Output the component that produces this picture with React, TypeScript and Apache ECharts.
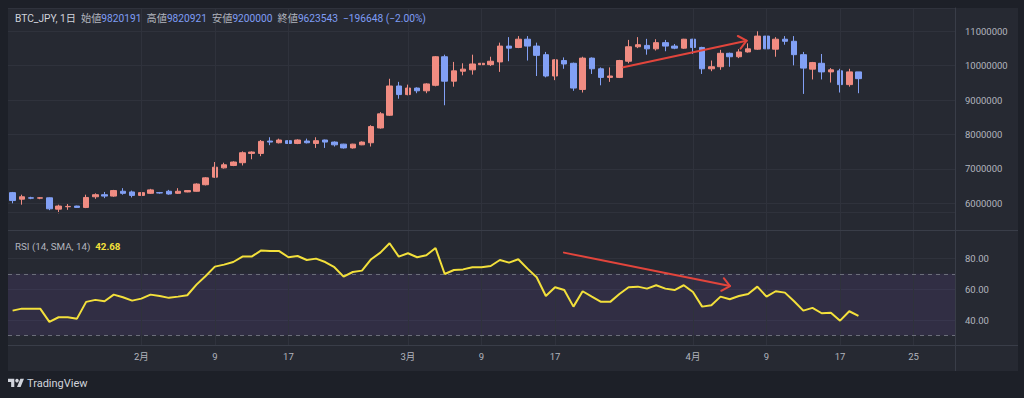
import React, { useEffect, useRef } from "react";
import * as echarts from "echarts";

// ---------- data ----------
const START_DATE = Date.UTC(2024, 0, 18);
const SLOT_COUNT = 103; // daily slots shown on the time axis (data + empty right margin)
const dates: string[] = Array.from({ length: SLOT_COUNT }, (_, i) =>
  new Date(START_DATE + i * 86400000).toISOString().slice(0, 10)
);

const opens = [
  6310000, 6120000, 6160000, 6150000, 6160000, 5830000, 5900000, 5920000, 5880000, 6190000,
  6250000, 6210000, 6350000, 6330000, 6230000, 6290000, 6310000, 6350000, 6290000, 6330000,
  6350000, 6540000, 6760000, 7030000, 7100000, 7180000, 7450000, 7450000, 7810000, 7760000,
  7820000, 7740000, 7810000, 7740000, 7840000, 7780000, 7720000, 7610000, 7700000, 7760000,
  8190000, 8560000, 9410000, 9160000, 9350000, 9270000, 9430000, 10260000, 9550000, 9840000,
  9880000, 10030000, 10030000, 10110000, 10570000, 10530000, 10770000, 10570000, 10320000, 9700000,
  10150000, 10070000, 9310000, 10220000, 9910000, 9660000, 9660000, 10130000, 10550000, 10590000,
  10490000, 10670000, 10570000, 10510000, 10770000, 10530000, 9910000, 9970000, 10360000, 10260000,
  10400000, 10480000, 10860000, 10480000, 10770000, 10710000, 10320000, 9900000, 10070000, 9820000,
  9850000, 9450000, 9820191,
];
const highs = [
  6330000, 6250000, 6190000, 6180000, 6170000, 5960000, 5980000, 5930000, 6250000, 6290000,
  6330000, 6390000, 6440000, 6370000, 6320000, 6420000, 6330000, 6390000, 6440000, 6380000,
  6580000, 6760000, 7200000, 7180000, 7220000, 7510000, 7510000, 7840000, 7920000, 7880000,
  7830000, 7860000, 7880000, 7920000, 7850000, 7800000, 7730000, 7730000, 7800000, 8270000,
  8650000, 9620000, 9530000, 9450000, 9370000, 9490000, 10280000, 10320000, 10110000, 10070000,
  10320000, 10110000, 10260000, 10670000, 10830000, 10860000, 10860000, 10670000, 10400000, 10190000,
  10240000, 10090000, 10260000, 10240000, 9950000, 9950000, 10170000, 10750000, 10830000, 10780000,
  10770000, 10750000, 10630000, 10780000, 10780000, 10550000, 10150000, 10460000, 10380000, 10480000,
  10650000, 11000000, 10880000, 10830000, 10860000, 10860000, 10400000, 10110000, 10340000, 9930000,
  9910000, 9910000, 9820921,
];
const lows = [
  6000000, 5960000, 6120000, 6120000, 5800000, 5710000, 5810000, 5870000, 5860000, 6130000,
  6150000, 6190000, 6250000, 6170000, 6130000, 6270000, 6280000, 6250000, 6270000, 6320000,
  6340000, 6520000, 6740000, 7010000, 7080000, 7100000, 7280000, 7370000, 7690000, 7740000,
  7590000, 7720000, 7740000, 7610000, 7610000, 7650000, 7590000, 7590000, 7690000, 7650000,
  8170000, 8540000, 9040000, 9140000, 9200000, 9200000, 9400000, 8850000, 9390000, 9720000,
  9740000, 9990000, 9990000, 9820000, 10130000, 10510000, 10150000, 9700000, 9660000, 9580000,
  9910000, 9270000, 9220000, 9760000, 9430000, 9530000, 9640000, 10070000, 10510000, 10320000,
  10440000, 10420000, 10480000, 10490000, 10340000, 9760000, 9840000, 9880000, 9970000, 10220000,
  10380000, 10460000, 10340000, 10260000, 10610000, 10010000, 9180000, 9600000, 9600000, 9510000,
  9220000, 9390000, 9200000,
];
const closes = [
  6080000, 6190000, 6150000, 6160000, 5840000, 5920000, 5910000, 5880000, 6170000, 6250000,
  6210000, 6370000, 6290000, 6230000, 6310000, 6390000, 6300000, 6270000, 6350000, 6370000,
  6560000, 6740000, 7050000, 7120000, 7200000, 7470000, 7490000, 7800000, 7780000, 7840000,
  7740000, 7840000, 7760000, 7820000, 7780000, 7700000, 7610000, 7720000, 7780000, 8230000,
  8600000, 9410000, 9160000, 9350000, 9270000, 9470000, 10260000, 9550000, 9850000, 9900000,
  10050000, 10070000, 10130000, 10570000, 10510000, 10770000, 10570000, 10300000, 9700000, 10170000,
  10050000, 9350000, 10220000, 9910000, 9660000, 9700000, 10150000, 10550000, 10610000, 10490000,
  10670000, 10570000, 10510000, 10770000, 10530000, 9910000, 9970000, 10360000, 10260000, 10400000,
  10490000, 10860000, 10490000, 10770000, 10710000, 10320000, 9930000, 10090000, 9820000, 9880000,
  9450000, 9820191, 9623543,
];
const rsiValues = [
  46.1, 47.4, 47.4, 47.4, 38.8, 41.8, 41.8, 40.9, 51.8, 53.1,
  52.2, 56.5, 54.8, 52.6, 53.9, 56.5, 55.6, 54.4, 55.2, 56.1,
  63.0, 68.6, 74.7, 76.0, 77.7, 81.2, 81.2, 85.1, 84.8, 84.8,
  80.8, 81.6, 79.0, 79.9, 77.7, 74.3, 68.2, 71.2, 72.1, 79.5,
  83.8, 89.9, 81.2, 83.4, 80.8, 82.1, 86.8, 69.9, 72.5, 72.9,
  74.3, 74.3, 75.1, 79.0, 77.3, 79.5, 73.4, 67.8, 55.6, 61.3,
  59.5, 48.7, 58.7, 55.2, 51.8, 51.8, 56.9, 61.3, 61.7, 60.4,
  62.6, 60.4, 59.5, 62.6, 58.2, 48.7, 49.6, 55.2, 53.5, 55.6,
  56.9, 61.7, 55.2, 58.7, 57.8, 52.2, 46.1, 47.9, 44.4, 44.8,
  39.6, 45.7, 42.68,
];
const labelDates = [
  "2024-02-01", "2024-02-09", "2024-02-17", "2024-03-01", "2024-03-09",
  "2024-03-17", "2024-04-01", "2024-04-09", "2024-04-17", "2024-04-25",
];
const rsiBand = [30, 70];
const rsiLabelTicks = [40, 60, 80];
// annotations: [slot index, value]
const priceArrow = { from: [66.42, 9953000], to: [79.84, 10727000] };
const rsiArrow = { from: [59.97, 83.8], to: [78.03, 62.1] };

// ---------- style ----------
const OUTER = "#1d2028";
const PANEL = "#262932";
const GRID = "#2f323c";
const BORDER = "#393d48";
const TEXT = "#b2b5be";
const TEXT_LIGHT = "#d1d4dc";
const UP = "#f08c82";
const DOWN = "#82a0f5";
const VAL_BLUE = "#7f9df5";
const YELLOW = "#f3e03b";
const ARROW = "#e2453c";
const FONT = 'Roboto, "Noto Sans CJK JP", sans-serif';

echarts.graphic.registerShape(
  "tvlogo",
  echarts.graphic.extendPath("M14 22H7V11H0V4h14v18zM28 22h-8l7.5-18h8L28 22z", {})
);

export default function App() {
  const ref = useRef<HTMLDivElement>(null);
  useEffect(() => {
    const el = ref.current!;
    const chart = echarts.init(el, null, { renderer: "svg" });
    const candleData = dates.map((_, i) =>
      i < opens.length ? [opens[i], closes[i], lows[i], highs[i]] : "-"
    );
    const rsiData = dates.map((_, i) => (i < rsiValues.length ? rsiValues[i] : "-"));
    const labelSet = new Set(labelDates);
    const vLines = labelDates.map((d) => ({ xAxis: d }));
    const fmtDate = (v: string) => {
      const p = v.split("-").map(Number);
      return p[2] === 1 ? `${p[1]}月` : String(p[2]);
    };

    chart.setOption({
      animation: false,
      backgroundColor: "transparent",
      textStyle: { fontFamily: FONT },
      grid: [
        { left: 8, right: 69, top: 8, height: 222 },
        { left: 8, right: 69, top: 230, height: 115 },
      ],
      xAxis: [
        {
          type: "category", gridIndex: 0, data: dates, boundaryGap: true,
          axisLine: { show: false }, axisTick: { show: false }, axisLabel: { show: false },
          splitLine: { show: false },
        },
        {
          type: "category", gridIndex: 1, data: dates, boundaryGap: true,
          axisLine: { show: false }, axisTick: { show: false },
          axisLabel: {
            color: TEXT, fontSize: 9.5, margin: 7, fontFamily: FONT,
            interval: (_i: number, v: string) => labelSet.has(v),
            formatter: fmtDate,
          },
          splitLine: { show: false },
        },
      ],
      yAxis: [
        {
          type: "value", gridIndex: 0, position: "right", min: 5224000, max: 11677000,
          splitNumber: 5,
          axisLine: { show: true, lineStyle: { color: BORDER } }, axisTick: { show: false },
          axisLabel: {
            color: TEXT, fontSize: 9.5, margin: 10, fontFamily: FONT,
            showMinLabel: false, showMaxLabel: false,
            formatter: (v: number) =>
              Math.abs(v / 1e6 - Math.round(v / 1e6)) < 1e-6 ? String(Math.round(v)) : "",
          },
          splitLine: { lineStyle: { color: GRID } },
        },
        {
          type: "value", gridIndex: 1, position: "right", min: 23.77, max: 98.5,
          splitNumber: 4,
          axisLine: { show: true, lineStyle: { color: BORDER } }, axisTick: { show: false },
          axisLabel: {
            color: TEXT, fontSize: 9.5, margin: 10, fontFamily: FONT,
            showMinLabel: false, showMaxLabel: false,
            formatter: (v: number) => (rsiLabelTicks.includes(Math.round(v * 100) / 100) ? v.toFixed(2) : ""),
          },
          splitLine: { lineStyle: { color: GRID } },
        },
      ],
      series: [
        {
          type: "candlestick", xAxisIndex: 0, yAxisIndex: 0, data: candleData,
          barWidth: 6,
          itemStyle: { color: UP, color0: DOWN, borderColor: UP, borderColor0: DOWN, borderWidth: 1 },
          markLine: {
            silent: true, symbol: ["none", "none"], label: { show: false },
            lineStyle: { color: GRID, type: "solid", width: 1 },
            data: [...vLines, { yAxis: 5727000 }],
          },
        },
        {
          type: "line", xAxisIndex: 1, yAxisIndex: 1, data: rsiData, showSymbol: false,
          symbol: "none", lineStyle: { color: YELLOW, width: 2 }, z: 5,
          markArea: {
            silent: true, itemStyle: { color: "rgba(126, 87, 194, 0.13)" },
            data: [[{ yAxis: rsiBand[1] }, { yAxis: rsiBand[0] }]],
          },
          markLine: {
            silent: true, symbol: ["none", "none"], label: { show: false },
            data: [
              ...vLines.map((v) => ({ ...v, lineStyle: { color: GRID, type: "solid", width: 1 } })),
              { yAxis: rsiBand[1], lineStyle: { color: "#6b6e7a", type: [4, 4], width: 1 } },
              { yAxis: rsiBand[0], lineStyle: { color: "#6b6e7a", type: [4, 4], width: 1 } },
            ],
          },
        },
      ],
    });

    const px = (gridIndex: number, idx: number, val: number) => {
      const i0 = Math.floor(idx);
      const p0 = chart.convertToPixel({ gridIndex } as any, [i0, val]) as number[];
      const p1 = chart.convertToPixel({ gridIndex } as any, [i0 + 1, val]) as number[];
      return [p0[0] + (p1[0] - p0[0]) * (idx - i0), p0[1]];
    };
    const arrowEls = (gridIndex: number, a: { from: number[]; to: number[] }) => {
      const s = px(gridIndex, a.from[0], a.from[1]);
      const t = px(gridIndex, a.to[0], a.to[1]);
      const dx = s[0] - t[0], dy = s[1] - t[1];
      const len = Math.hypot(dx, dy);
      const ux = dx / len, uy = dy / len;
      const arm = (ang: number) => {
        const c = Math.cos(ang), sn = Math.sin(ang);
        return [t[0] + 10 * (ux * c - uy * sn), t[1] + 10 * (ux * sn + uy * c)];
      };
      const st = { stroke: ARROW, lineWidth: 2, lineCap: "round", lineJoin: "round", fill: null };
      return [
        { type: "polyline", shape: { points: [s, t] }, style: st, z: 50 },
        { type: "polyline", shape: { points: [arm(0.7), t, arm(-0.7)] }, style: st, z: 50 },
      ];
    };

    const last = opens.length - 1;
    const chg = closes[last] - closes[last - 1];
    const pct = (chg / closes[last - 1]) * 100;
    const neg = (n: number) => (n < 0 ? "\u2212" : "") + Math.abs(n);
    const header =
      `BTC_JPY, 1日  {l|始値}{v|${opens[last]}}  {l|高値}{v|${highs[last]}}  ` +
      `{l|安値}{v|${lows[last]}}  {l|終値}{v|${closes[last]}}  ` +
      `{v|${neg(chg)} (${pct < 0 ? "\u2212" : ""}${Math.abs(pct).toFixed(2)}%)}`;
    const HF = 10.2;

    chart.setOption({
      graphic: [
        { type: "line", shape: { x1: 8, y1: 230.5, x2: 1018, y2: 230.5 }, style: { stroke: BORDER, lineWidth: 1 }, z: 40 },
        { type: "line", shape: { x1: 8, y1: 345.5, x2: 1018, y2: 345.5 }, style: { stroke: BORDER, lineWidth: 1 }, z: 40 },
        { type: "line", shape: { x1: 955.5, y1: 345, x2: 955.5, y2: 371 }, style: { stroke: BORDER, lineWidth: 1 }, z: 40 },
        {
          type: "text", x: 15, y: 18, z: 60,
          style: {
            text: header, fill: TEXT_LIGHT, fontSize: HF, fontFamily: FONT, verticalAlign: "middle",
            rich: {
              l: { fill: TEXT, fontSize: HF, fontFamily: FONT },
              v: { fill: VAL_BLUE, fontSize: HF, fontFamily: FONT },
            },
          },
        },
        {
          type: "text", x: 15, y: 246, z: 60,
          style: {
            text: `RSI (14, SMA, 14)  {y|${rsiValues[rsiValues.length - 1].toFixed(2)}}`,
            fill: TEXT, fontSize: 9.8, fontFamily: FONT, verticalAlign: "middle",
            rich: { y: { fill: YELLOW, fontSize: 9.8, fontFamily: FONT, fontWeight: "bold" } },
          },
        },
        { type: "tvlogo", x: 8, y: 377, scaleX: 0.45, scaleY: 0.45, style: { fill: TEXT_LIGHT }, z: 60 },
        { type: "circle", shape: { cx: 8 + 20 * 0.45, cy: 377 + 8 * 0.45, r: 4 * 0.45 }, style: { fill: TEXT_LIGHT }, z: 60 },
        {
          type: "text", x: 27, y: 383, z: 60,
          style: { text: "TradingView", fill: TEXT_LIGHT, fontSize: 11, fontFamily: FONT, verticalAlign: "middle" },
        },
        ...arrowEls(0, priceArrow),
        ...arrowEls(1, rsiArrow),
      ],
    });

    return () => chart.dispose();
  }, []);

  return (
    <div style={{ position: "fixed", left: 0, top: 0, width: 1024, height: 398, background: OUTER }}>
      <div style={{ position: "absolute", left: 8, top: 8, width: 1010, height: 363, background: PANEL }} />
      <div ref={ref} style={{ position: "absolute", left: 0, top: 0, width: 1024, height: 398 }} />
    </div>
  );
}
